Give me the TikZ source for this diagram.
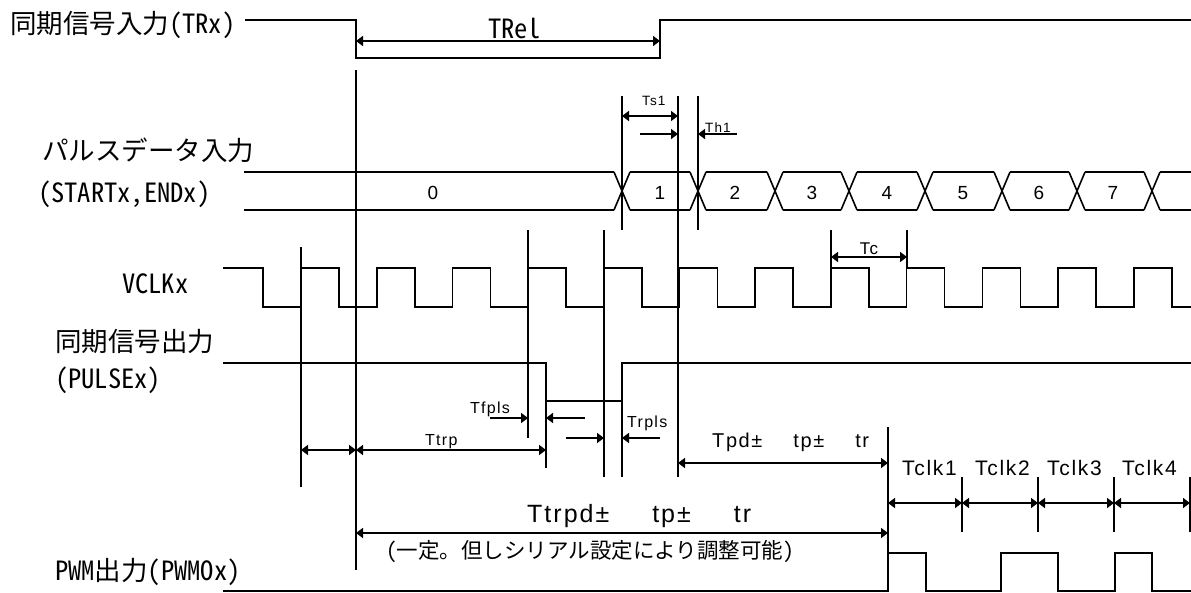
\documentclass[tikz,border=0pt]{standalone}
\usepackage{fontspec}
\setmainfont{Noto Sans CJK JP}
\newfontfamily\hw{Noto Sans CJK JP}[RawFeature=+hwid]
\newfontfamily\ar{Liberation Sans}[LetterSpace=8]
\usetikzlibrary{arrows.meta}
\newcommand\fA{\fontsize{26.5pt}{30pt}\selectfont}
\newcommand\fB{\fontsize{21.5pt}{24pt}\selectfont}
\begin{document}
\begin{tikzpicture}[x=1pt,y=-1pt,
  sig/.style={line width=1.6pt},
  dim/.style={line width=1.5pt,{Triangle[length=7pt,width=10pt]}-{Triangle[length=7pt,width=10pt]}},
  ptr/.style={line width=1.5pt,-{Triangle[length=7pt,width=10pt]}},
  lbl/.style={inner sep=0pt,anchor=base west},
  clbl/.style={inner sep=0pt,anchor=base}]
\useasboundingbox (0,0) rectangle (1191,592);
% ---------- labels ----------
\node[lbl] (lTRx) at (10,33) {\fA 同期信号入力{\hw (TRx)}};
\node[lbl] (lPD) at (42,160) {\fA パルスデータ入力};
\node[lbl] (lSE) at (38,202) {\fA\hw (STARTx,ENDx)};
\node[lbl] (lVC) at (122,293) {\fA\hw VCLKx};
\node[lbl] (lPO) at (55,351) {\fA 同期信号出力};
\node[lbl] (lPU) at (55,388) {\fA\hw (PULSEx)};
\node[lbl] (lPW) at (55,580) {\fA{\hw PWM}出力{\hw (PWMOx)}};
\node[lbl] (lNote) at (386,558) {\fB{\hw (}一定。但しシリアル設定により調整可能{\hw )}};
\node[lbl] (lTRel) at (488,38) {\fA\hw TRel};
% ---------- TRx ----------
\draw[sig] (245,20) -- (356,20) -- (356,58) -- (660,58) -- (660,20) -- (1191,20);
% ---------- bus ----------
\foreach \a/\b in {244/614,630/690,706/767,783/841,857/917,933/994,1010/1069,1085/1144,1160/1191}{
  \draw[sig] (\a,172) -- (\b,172);
  \draw[sig] (\a,210) -- (\b,210);}
\foreach \c in {622,698,775,849,925,1002,1077,1152}{
  \draw[sig] ({\c-8},172) -- ({\c+8},210);
  \draw[sig] ({\c-8},210) -- ({\c+8},172);}
\foreach \t/\x in {0/433,1/660,2/735,3/812,4/887,5/963,6/1039,7/1113}{
  \node[clbl] (d\t) at (\x,199) {\fontsize{19pt}{22pt}\selectfont\ar \t};}
% ---------- VCLK ----------
\draw[sig] (223,268) -- (263,268) -- (263,307) -- (301,307)
  \foreach \k in {0,...,11}{ -- ({301+75.7*\k},307) -- ({301+75.7*\k},268) -- ({339+75.7*\k},268) -- ({339+75.7*\k},307)} -- (1191,307);
% ---------- PULSE ----------
\draw[sig] (223,363) -- (546,363) -- (546,401) -- (622,401) -- (622,363) -- (1191,363);
% ---------- PWM ----------
\draw[sig] (223,591) -- (888,591) -- (888,553) -- (926,553) -- (926,591) -- (1001,591) -- (1001,553) -- (1058,553) -- (1058,591) -- (1115,591) -- (1115,553) -- (1152,553) -- (1152,591) -- (1191,591);
% ---------- reference lines ----------
\draw[sig] (356,70) -- (356,570);
\draw[sig] (301,247) -- (301,487);
\draw[sig] (528,230) -- (528,438);
\draw[sig] (604,230) -- (604,477);
\draw[sig] (678,96) -- (678,477);
\draw[sig] (622,96) -- (622,230);
\draw[sig] (698,96) -- (698,230);
\draw[sig] (831,230) -- (831,268);
\draw[sig] (907,230) -- (907,268);
\draw[sig] (546,401) -- (546,468);
\draw[sig] (622,401) -- (622,477);
\draw[sig] (888,427) -- (888,553);
\foreach \x in {962,1038,1114,1190}{\draw[sig] (\x,477) -- (\x,532);}
% ---------- dimension arrows ----------
\draw[dim] (356,41) -- (660,41);
\draw[dim] (622,116) -- (678,116);
\node[lbl] (lTs1) at (642,105) {\fontsize{13.5pt}{15pt}\selectfont\ar Ts1};
\draw[ptr] (640,134) -- (678,134);
\draw[ptr] (737,134) -- (698,134);
\node[lbl] (lTh1) at (705,132) {\fontsize{13.5pt}{15pt}\selectfont\ar Th1};
\draw[dim] (831,257) -- (907,257);
\node[clbl] (lTc) at (869,254) {\fontsize{17pt}{19pt}\selectfont\ar Tc};
\draw[ptr] (490,418) -- (528,418);
\draw[ptr] (585,418) -- (546,418);
\node[lbl] (lTf) at (470,413) {\fontsize{16pt}{18pt}\selectfont\ar Tfpls};
\draw[ptr] (566,438) -- (604,438);
\draw[ptr] (660,438) -- (622,438);
\node[lbl] (lTr) at (627,427) {\fontsize{16pt}{18pt}\selectfont\ar Trpls};
\draw[dim] (301,450) -- (356,450);
\draw[dim] (356,450) -- (546,450);
\node[lbl] (lTtrp) at (425,445) {\fontsize{16pt}{18pt}\selectfont\ar Ttrp};
\draw[dim] (678,463) -- (888,463);
\node[lbl] (lTpd) at (712,447) {\fontsize{20pt}{22pt}\selectfont\ar Tpd±\hspace{31pt}tp±\hspace{31pt}tr};
\foreach \a/\b in {888/962,962/1038,1038/1114,1114/1190}{\draw[dim] (\a,503) -- (\b,503);}
\foreach \n/\x in {1/902,2/975,3/1047,4/1122}{
  \node[lbl] (lTclk\n) at (\x,475) {\fontsize{21pt}{23pt}\selectfont\ar Tclk\n};}
\draw[dim] (356,533) -- (888,533);
\node[lbl] (lTtrpd) at (527,522) {\fontsize{25pt}{28pt}\selectfont\ar Ttrpd±\hspace{43pt}tp±\hspace{43pt}tr};
\end{tikzpicture}
\end{document}
